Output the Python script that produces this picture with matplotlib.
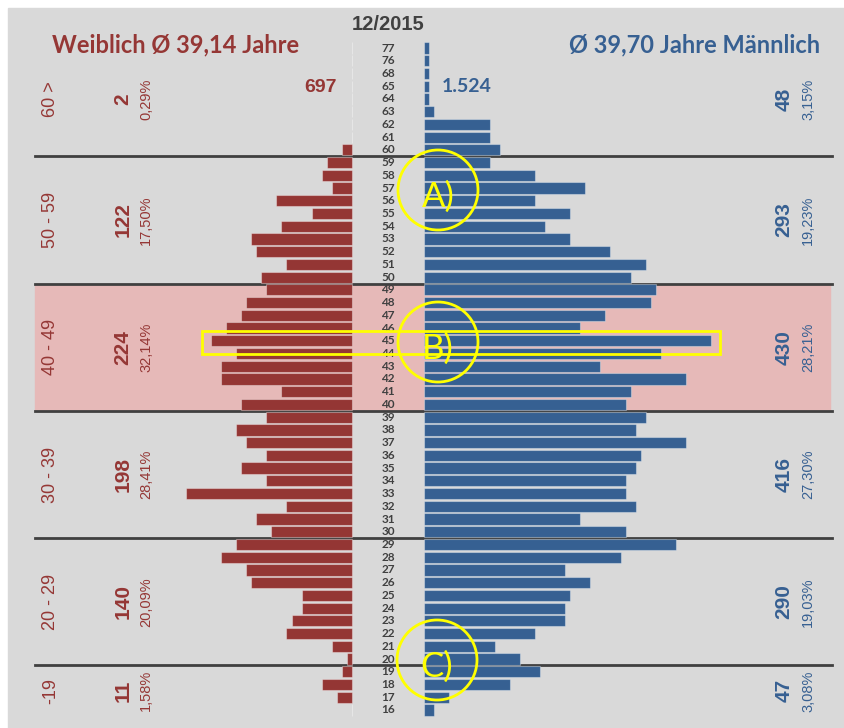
import numpy as np
import matplotlib.pyplot as plt
from matplotlib.patches import Rectangle, Ellipse
from matplotlib.transforms import blended_transform_factory

# Daten
ages = [77, 76, 68, 65, 64] + list(range(63, 15, -1))
female = [0, 0, 0, 0, 0, 0, 0, 0, 2,
          5, 6, 4, 15, 8, 14, 20, 19, 13, 18,
          17, 21, 22, 25, 28, 23, 26, 26, 14, 22,
          17, 23, 21, 17, 22, 17, 33, 13, 19, 16,
          23, 26, 21, 20, 10, 10, 12, 13, 4, 1,
          2, 6, 3, 0]
male = [1, 1, 1, 1, 1, 2, 13, 13, 15,
        13, 22, 32, 22, 29, 24, 29, 37, 44, 41,
        46, 45, 36, 31, 57, 47, 35, 52, 41, 40,
        44, 42, 52, 43, 42, 40, 40, 42, 31, 40,
        50, 39, 28, 33, 29, 28, 28, 22, 14, 19,
        23, 17, 5, 2]

groups = ['60 >', '50 - 59', '40 - 49', '30 - 39', '20 - 29', '-19']
group_ranges = [(60, 99), (50, 59), (40, 49), (30, 39), (20, 29), (0, 19)]
f_tot = [2, 122, 224, 198, 140, 11]
f_pct = ['0,29%', '17,50%', '32,14%', '28,41%', '20,09%', '1,58%']
m_tot = [48, 293, 430, 416, 290, 47]
m_pct = ['3,15%', '19,23%', '28,21%', '27,30%', '19,03%', '3,08%']

RED = '#953735'
BLUE = '#376092'
GREY = '#404040'

W, H = 845, 728
K = 5.04     # px pro Person
R = 12.73    # px pro Zeile
gap = 36 / K

def fx(px):
    return px / W

def fy(py):
    return 1 - py / H

fig = plt.figure(figsize=(W / 100, H / 100), dpi=100)
fig.add_artist(Rectangle((fx(8), 0), 1, 1 - 8 / H, transform=fig.transFigure,
                         color='#d9d9d9', zorder=-10))
ax = fig.add_axes([0, 0, 1, 1])
ax.axis('off')

y = np.arange(len(ages))
ax.barh(y, -np.array(female), left=-gap, height=0.88, color='#943634',
        edgecolor=(1, 1, 1, 0.35), lw=0.8, zorder=3)
ax.barh(y, male, left=gap, height=0.88, color='#366092',
        edgecolor=(1, 1, 1, 0.35), lw=0.8, zorder=3)

for i, a in enumerate(ages):
    ax.text(0, i, str(a), ha='center', va='center', fontsize=8.5,
            fontweight='bold', color=GREY, family='Lato', zorder=4)

ax.set_xlim(-388 / K, (W - 388) / K)
ax.set_ylim((H - 48) / R, -48 / R)

# Trennlinien und Band 40 - 49
bounds = [ages.index(a) - 0.5 for a in [59, 49, 39, 29, 19]]
ax.axhspan(bounds[1], bounds[2], xmin=fx(35), xmax=fx(830), color='#e6b9b8', zorder=0)
for b in bounds:
    ax.axhline(b, xmin=fx(35), xmax=fx(832), color=GREY, lw=2, zorder=2)

tr = blended_transform_factory(ax.transAxes, ax.transData)
ages_arr = np.array(ages)
for g, (lo, hi), ft, fp, mt, mp in zip(groups, group_ranges, f_tot, f_pct, m_tot, m_pct):
    yc = np.mean(y[(ages_arr >= lo) & (ages_arr <= hi)])
    ax.text(fx(51), yc, g, rotation=90, ha='center', va='center', fontsize=13,
            color=RED, family='Liberation Sans', transform=tr)
    ax.text(fx(123), yc, str(ft), rotation=90, ha='center', va='center', fontsize=15,
            fontweight='bold', color=RED, family='Liberation Sans', transform=tr)
    ax.text(fx(146), yc, fp, rotation=90, ha='center', va='center', fontsize=10.5,
            color=RED, family='Liberation Sans', transform=tr)
    ax.text(fx(784), yc, str(mt), rotation=90, ha='center', va='center', fontsize=15,
            fontweight='bold', color=BLUE, family='Liberation Sans', transform=tr)
    ax.text(fx(808), yc, mp, rotation=90, ha='center', va='center', fontsize=10.5,
            color=BLUE, family='Liberation Sans', transform=tr)

# Titel
fig.text(fx(388), fy(24), '12/2015', ha='center', va='center', fontsize=14.5,
         fontweight='bold', color=GREY, family='Liberation Sans')
fig.text(fx(52), fy(45), 'Weiblich Ø 39,14 Jahre', ha='left', va='center', fontsize=17,
         fontweight='bold', color=RED, family='Lato')
fig.text(fx(820), fy(45), 'Ø 39,70 Jahre Männlich', ha='right', va='center', fontsize=17,
         fontweight='bold', color=BLUE, family='Lato')
fig.text(fx(337), fy(87), f'{sum(female)}', ha='right', va='center', fontsize=14,
         fontweight='bold', color=RED, family='Liberation Sans')
fig.text(fx(442), fy(87), f'{sum(male):,}'.replace(',', '.'), ha='left', va='center',
         fontsize=14, fontweight='bold', color=BLUE, family='Lato')

# Markierungen
YEL = '#ffff00'
for lab, cx, cy in [('A)', 438, 190), ('B)', 438, 342), ('C)', 437, 660)]:
    fig.add_artist(Ellipse((fx(cx), fy(cy)), 80 / W, 80 / H, transform=fig.transFigure,
                           fill=False, ec=YEL, lw=2, zorder=5))
    fig.text(fx(cx), fy(cy + 7), lab, ha='center', va='center', fontsize=25,
             color=YEL, family='Lato', zorder=6)
fig.add_artist(Rectangle((fx(202), fy(354)), 518 / W, 23 / H, transform=fig.transFigure,
                         fill=False, ec=YEL, lw=2, zorder=5))

plt.savefig('out.png', dpi=100)
